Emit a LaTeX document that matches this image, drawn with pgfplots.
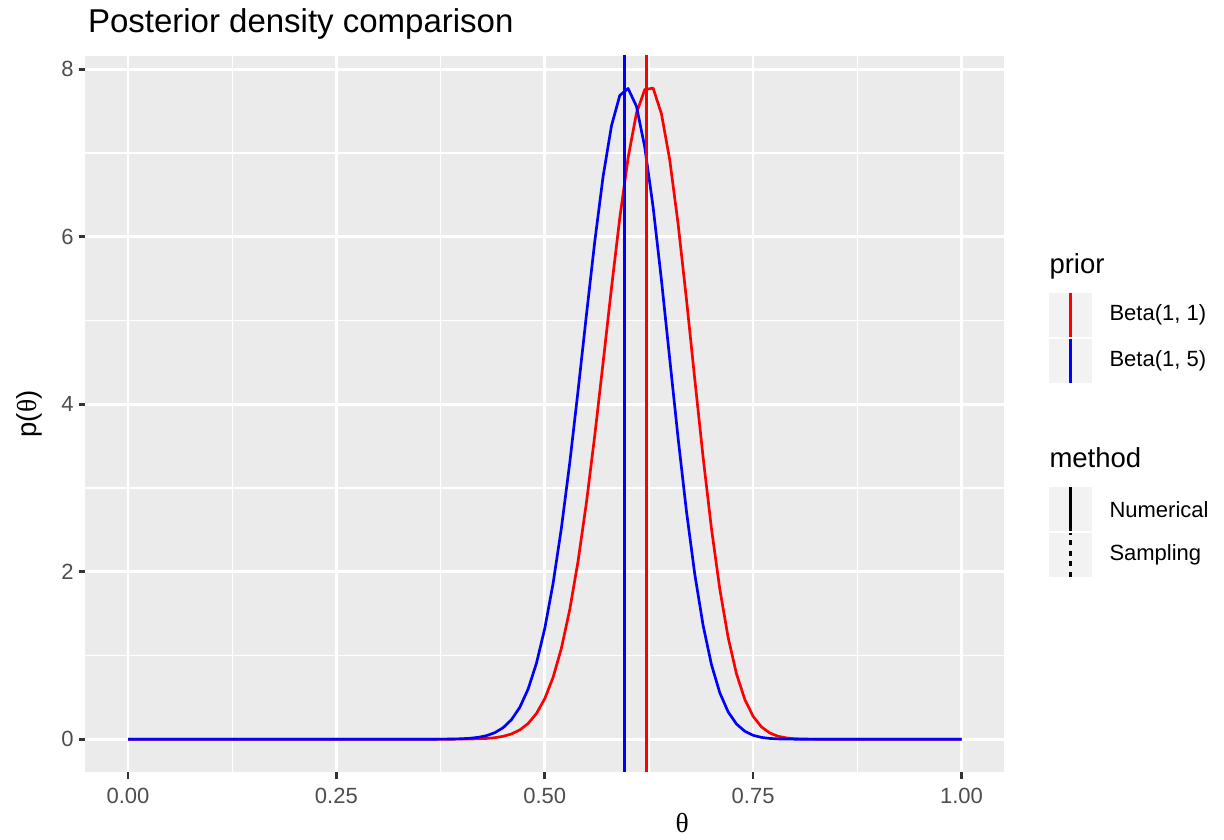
\documentclass[border=0pt]{standalone}
\usepackage{fontspec}
\setmainfont{Liberation Sans}
\newfontfamily\symfont{Liberation Serif}
\usepackage{pgfplots}
\pgfplotsset{compat=1.18}
\definecolor{panelgray}{HTML}{EBEBEB}
\definecolor{keygray}{HTML}{F2F2F2}
\definecolor{ticklab}{HTML}{4D4D4D}
\definecolor{tickcol}{HTML}{333333}
\newcommand{\ticksize}{\fontsize{8.8}{10.5}\selectfont}
\newcommand{\titlesize}{\fontsize{11}{13}\selectfont}

% posterior on a 0.01 grid, Beta(1,1) prior
\pgfplotstableread{
x y
0 0
0.36 0
0.37 0.00006
0.38 0.00016
0.39 0.00040
0.40 0.00093
0.41 0.00207
0.42 0.00444
0.43 0.00912
0.44 0.01801
0.45 0.03420
0.46 0.06253
0.47 0.11009
0.48 0.18696
0.49 0.30614
0.50 0.48382
0.51 0.73815
0.52 1.08762
0.53 1.54783
0.54 2.12809
0.55 2.82666
0.56 3.62738
0.57 4.49664
0.58 5.38370
0.59 6.22360
0.60 6.94390
0.61 7.47460
0.62 7.75740
0.63 7.77500
0.64 7.46800
0.65 6.91500
0.66 6.15240
0.67 5.25260
0.68 4.29810
0.69 3.36460
0.70 2.51600
0.71 1.79340
0.72 1.21570
0.73 0.78180
0.74 0.47550
0.75 0.27270
0.76 0.14690
0.77 0.07400
0.78 0.03470
0.79 0.01510
0.80 0.00601
0.81 0.00219
0.82 0.00070
0.83 0.00020
0.84 0
1 0
}\betaone

% Beta(1,5) prior
\pgfplotstableread{
x y
0 0
0.36 0
0.37 0.00040
0.38 0.00105
0.39 0.00241
0.40 0.00526
0.41 0.01098
0.42 0.02195
0.43 0.04207
0.44 0.07740
0.45 0.13678
0.46 0.23235
0.47 0.37969
0.48 0.59742
0.49 0.90521
0.50 1.32171
0.51 1.85995
0.52 2.52354
0.53 3.30116
0.54 4.16461
0.55 5.06624
0.56 5.94268
0.57 6.71942
0.58 7.32241
0.59 7.68704
0.60 7.77009
0.61 7.55829
0.62 7.07002
0.63 6.35462
0.64 5.48250
0.65 4.53553
0.66 3.59340
0.67 2.72266
0.68 1.96999
0.69 1.35822
0.70 0.89071
0.71 0.55442
0.72 0.32660
0.73 0.18164
0.74 0.09502
0.75 0.04657
0.76 0.02126
0.77 0.00905
0.78 0.00355
0.79 0.00129
0.80 0.00040
0.81 0
1 0
}\betafive

\begin{document}
\begin{tikzpicture}
\path[use as bounding box] (0,0) rectangle (489.6pt,336pt);
\begin{axis}[
  at={(34.2pt,27.3pt)}, anchor=south west,
  scale only axis, width=367.4pt, height=286.3pt,
  xmin=-0.051, xmax=1.051, ymin=-0.3885, ymax=8.1585,
  axis background/.style={fill=panelgray},
  axis line style={draw=none},
  xtick={0,0.25,0.5,0.75,1}, xticklabels={0.00,0.25,0.50,0.75,1.00},
  ytick={0,2,4,6,8}, yticklabels={0,2,4,6,8},
  minor xtick={0.125,0.375,0.625,0.875}, minor ytick={1,3,5,7},
  grid=both,
  major grid style={white, line width=1.07pt},
  minor grid style={white, line width=0.53pt},
  tick align=outside, tick pos=left,
  major tick length=2.75pt, minor tick length=0pt,
  major tick style={tickcol, line width=1.07pt},
  /pgf/number format/assume math mode=true,
  xticklabel style={font=\ticksize, text=ticklab, inner sep=0pt, anchor=north, yshift=-3.6pt},
  yticklabel style={font=\ticksize, text=ticklab, inner sep=0pt, anchor=east, xshift=-1.8pt},
]
\addplot[red, line width=1.07pt, line join=round] table[x=x, y=y] {\betaone};
\addplot[blue, line width=1.07pt, line join=round] table[x=x, y=y] {\betafive};
% posterior means: numerical and sampling
\addplot[red, line width=1.07pt] coordinates {(0.6222,-1) (0.6222,9)};
\addplot[red, line width=1.07pt, dash pattern=on 2.1pt off 2.1pt] coordinates {(0.6217,-1) (0.6217,9)};
\addplot[blue, line width=1.07pt] coordinates {(0.5957,-1) (0.5957,9)};
\addplot[blue, line width=1.07pt, dash pattern=on 2.1pt off 2.1pt] coordinates {(0.5953,-1) (0.5953,9)};
\end{axis}

% titles
\node[anchor=base west, inner sep=0pt, font=\fontsize{13.2}{15}\selectfont] at (35pt,322.8pt) {Posterior density comparison};
\node[inner sep=0pt, font=\titlesize\symfont] at (272.9pt,6.6pt) {θ};
\node[inner sep=0pt, rotate=90, font=\titlesize] at (11.8pt,170.4pt) {p({\symfont θ})};

% legend: prior
\node[anchor=base west, inner sep=0pt, font=\titlesize] at (419.6pt,226.4pt) {prior};
\fill[keygray] (419.6pt,201.2pt) rectangle (436.8pt,218.8pt);
\fill[keygray] (419.6pt,182.8pt) rectangle (436.8pt,200.4pt);
\draw[red, line width=1.07pt] (428.2pt,201.2pt) -- (428.2pt,218.8pt);
\draw[blue, line width=1.07pt] (428.2pt,182.8pt) -- (428.2pt,200.4pt);
\node[anchor=west, inner sep=0pt, font=\ticksize] at (443.6pt,210pt) {Beta(1, 1)};
\node[anchor=west, inner sep=0pt, font=\ticksize] at (443.6pt,191.6pt) {Beta(1, 5)};

% legend: method
\node[anchor=base west, inner sep=0pt, font=\titlesize] at (419.6pt,148.8pt) {method};
\fill[keygray] (419.6pt,123.6pt) rectangle (436.8pt,141.2pt);
\fill[keygray] (419.6pt,105.2pt) rectangle (436.8pt,122.8pt);
\draw[black, line width=1.07pt] (428.2pt,123.6pt) -- (428.2pt,141.2pt);
\draw[black, line width=1.07pt, dash pattern=on 2.1pt off 2.1pt] (428.2pt,105.2pt) -- (428.2pt,122.8pt);
\node[anchor=west, inner sep=0pt, font=\ticksize] at (443.6pt,132pt) {Numerical};
\node[anchor=west, inner sep=0pt, font=\ticksize] at (443.6pt,114pt) {Sampling};
\end{tikzpicture}
\end{document}
